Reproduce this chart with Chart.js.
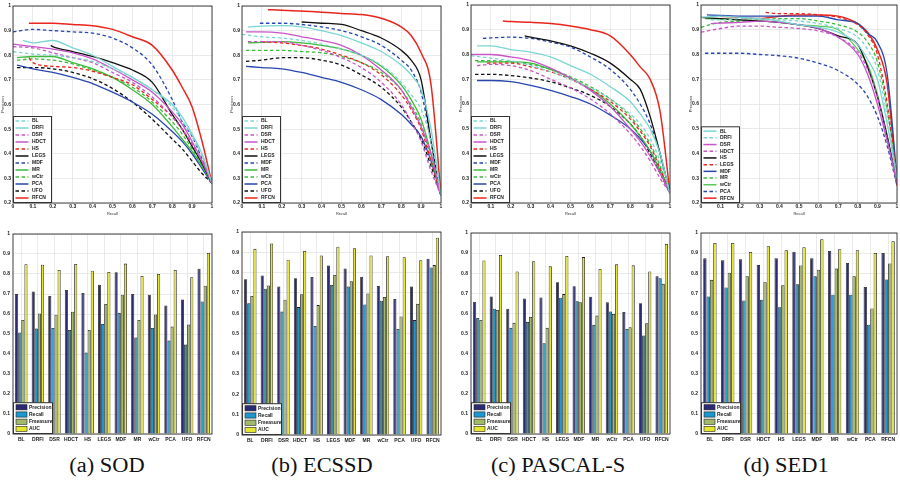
<!DOCTYPE html>
<html>
<head>
<meta charset="utf-8">
<script src="https://cdn.jsdelivr.net/npm/chart.js@4.4.1/dist/chart.umd.min.js"></script>
<style>
  body { margin: 0; width: 900px; height: 481px; overflow: hidden; background: #fff; position: relative; }
  canvas { position: absolute; }
  .cap { position: absolute; top: 454px; font-family: "Liberation Serif", serif; font-size: 20px; color: #111; white-space: nowrap; transform: translateX(-50%) scaleX(1.12); }
</style>
</head>
<body>
<div class="cap" style="left:107px">(a) SOD</div>
<div class="cap" style="left:322px">(b) ECSSD</div>
<div class="cap" style="left:558px">(c) PASCAL-S</div>
<div class="cap" style="left:786px">(d) SED1</div>
<script>
// method names
const methods = ["BL", "DRFI", "DSR", "HDCT", "HS", "LEGS", "MDF", "MR", "wCtr", "PCA", "UFO", "RFCN"];
const methodsSED = ["BL", "DRFI", "DSR", "HDCT", "HS", "LEGS", "MDF", "MR", "wCtr", "PCA", "RFCN"];
const measures = ["Precision", "Recall", "Fmeasure", "AUC"];

// shared recall positions for the PR curves (each curve also has its own first point)
const recallGrid = [0.1, 0.2, 0.3, 0.4, 0.5, 0.6, 0.7, 0.8, 0.85, 0.9, 0.95, 1];

// ---- SOD ----
const sodStart = [[0, 0.815], [0.05, 0.86], [0, 0.835], [0, 0.845], [0.08, 0.79], [0.19, 0.84],
  [0, 0.895], [0.02, 0.79], [0.02, 0.78], [0.02, 0.76], [0.02, 0.75], [0.08, 0.93]];
const sodPrec = [
  [0.805, 0.80, 0.79, 0.775, 0.745, 0.71, 0.66, 0.59, 0.535, 0.47, 0.39, 0.28],
  [0.85, 0.86, 0.83, 0.80, 0.755, 0.71, 0.66, 0.60, 0.55, 0.48, 0.40, 0.28],
  [0.83, 0.81, 0.79, 0.77, 0.73, 0.69, 0.63, 0.55, 0.50, 0.44, 0.37, 0.28],
  [0.835, 0.825, 0.81, 0.785, 0.745, 0.70, 0.65, 0.57, 0.52, 0.45, 0.37, 0.28],
  [0.77, 0.755, 0.75, 0.735, 0.71, 0.68, 0.62, 0.55, 0.50, 0.44, 0.37, 0.28],
  [null, 0.835, 0.815, 0.795, 0.77, 0.74, 0.69, 0.56, 0.50, 0.43, 0.36, 0.28],
  [0.905, 0.90, 0.895, 0.89, 0.87, 0.83, 0.76, 0.62, 0.53, 0.47, 0.38, 0.28],
  [0.795, 0.795, 0.77, 0.745, 0.71, 0.66, 0.60, 0.51, 0.46, 0.41, 0.35, 0.28],
  [0.785, 0.78, 0.765, 0.74, 0.71, 0.67, 0.61, 0.53, 0.48, 0.42, 0.35, 0.28],
  [0.745, 0.73, 0.71, 0.685, 0.65, 0.61, 0.56, 0.49, 0.45, 0.40, 0.34, 0.28],
  [0.75, 0.745, 0.73, 0.705, 0.665, 0.61, 0.54, 0.46, 0.42, 0.37, 0.32, 0.28],
  [0.93, 0.93, 0.925, 0.92, 0.905, 0.875, 0.84, 0.74, 0.67, 0.59, 0.45, 0.28]
];

// ---- ECSSD ----
const ecssdStart = [[0, 0.885], [0.03, 0.915], [0.03, 0.855], [0.02, 0.895], [0.1, 0.855], [0.3, 0.935],
  [0.09, 0.93], [0.03, 0.85], [0.02, 0.82], [0.02, 0.755], [0.02, 0.775], [0.13, 0.985]];
const ecssdPrec = [
  [0.875, 0.87, 0.86, 0.845, 0.825, 0.80, 0.76, 0.69, 0.64, 0.58, 0.45, 0.23],
  [0.918, 0.92, 0.915, 0.90, 0.88, 0.85, 0.815, 0.76, 0.72, 0.66, 0.50, 0.23],
  [0.855, 0.855, 0.84, 0.82, 0.79, 0.75, 0.69, 0.60, 0.53, 0.45, 0.33, 0.23],
  [0.895, 0.89, 0.875, 0.86, 0.84, 0.80, 0.74, 0.66, 0.59, 0.51, 0.40, 0.23],
  [null, 0.85, 0.84, 0.825, 0.80, 0.77, 0.72, 0.64, 0.58, 0.50, 0.37, 0.23],
  [null, null, null, 0.93, 0.925, 0.90, 0.87, 0.82, 0.78, 0.70, 0.45, 0.23],
  [0.93, 0.93, 0.925, 0.915, 0.90, 0.875, 0.84, 0.78, 0.74, 0.65, 0.45, 0.23],
  [0.852, 0.855, 0.85, 0.84, 0.825, 0.80, 0.755, 0.68, 0.62, 0.54, 0.40, 0.23],
  [0.82, 0.82, 0.815, 0.81, 0.795, 0.77, 0.73, 0.66, 0.60, 0.52, 0.38, 0.23],
  [0.75, 0.745, 0.73, 0.71, 0.69, 0.66, 0.62, 0.56, 0.52, 0.47, 0.37, 0.23],
  [0.78, 0.79, 0.79, 0.78, 0.76, 0.72, 0.67, 0.59, 0.53, 0.46, 0.35, 0.23],
  [null, 0.983, 0.98, 0.975, 0.97, 0.965, 0.95, 0.915, 0.88, 0.81, 0.68, 0.23]
];

// ---- PASCAL-S ----
const pascalStart = [[0, 0.795], [0.03, 0.835], [0.03, 0.755], [0, 0.80], [0.08, 0.765], [0.27, 0.875],
  [0.06, 0.865], [0.03, 0.77], [0.02, 0.775], [0.03, 0.695], [0.02, 0.72], [0.16, 0.935]];
const pascalPrec = [
  [0.785, 0.775, 0.755, 0.73, 0.70, 0.665, 0.62, 0.56, 0.52, 0.46, 0.37, 0.24],
  [0.835, 0.82, 0.81, 0.79, 0.755, 0.72, 0.67, 0.61, 0.56, 0.50, 0.40, 0.24],
  [0.76, 0.755, 0.735, 0.70, 0.665, 0.62, 0.56, 0.48, 0.43, 0.37, 0.30, 0.24],
  [0.80, 0.79, 0.775, 0.745, 0.705, 0.655, 0.59, 0.50, 0.45, 0.39, 0.32, 0.24],
  [0.765, 0.765, 0.75, 0.73, 0.70, 0.66, 0.61, 0.54, 0.49, 0.43, 0.34, 0.24],
  [null, null, 0.87, 0.855, 0.835, 0.805, 0.765, 0.70, 0.66, 0.55, 0.40, 0.24],
  [0.867, 0.87, 0.865, 0.85, 0.83, 0.79, 0.74, 0.66, 0.60, 0.52, 0.40, 0.24],
  [0.77, 0.77, 0.765, 0.74, 0.705, 0.66, 0.60, 0.52, 0.47, 0.41, 0.33, 0.24],
  [0.775, 0.77, 0.76, 0.74, 0.71, 0.67, 0.62, 0.55, 0.50, 0.44, 0.35, 0.24],
  [0.695, 0.69, 0.675, 0.655, 0.63, 0.60, 0.555, 0.50, 0.46, 0.41, 0.33, 0.24],
  [0.72, 0.715, 0.705, 0.69, 0.665, 0.635, 0.59, 0.52, 0.47, 0.40, 0.32, 0.24],
  [null, 0.933, 0.93, 0.925, 0.915, 0.90, 0.875, 0.80, 0.75, 0.70, 0.57, 0.24]
];

// ---- SED1 ----
const sedStart = [[0, 0.95], [0.05, 0.94], [0.05, 0.925], [0, 0.89], [0, 0.95], [0.33, 0.97],
  [0.03, 0.96], [0, 0.91], [0.02, 0.945], [0.02, 0.805], [0.1, 0.955]];
const sedPrec = [
  [0.955, 0.95, 0.945, 0.935, 0.92, 0.91, 0.89, 0.84, 0.78, 0.70, 0.52, 0.30],
  [0.94, 0.945, 0.943, 0.94, 0.935, 0.925, 0.905, 0.87, 0.82, 0.74, 0.55, 0.30],
  [0.927, 0.93, 0.935, 0.93, 0.92, 0.905, 0.87, 0.80, 0.72, 0.60, 0.45, 0.28],
  [0.905, 0.915, 0.915, 0.91, 0.905, 0.895, 0.87, 0.81, 0.74, 0.63, 0.46, 0.28],
  [0.945, 0.94, 0.935, 0.93, 0.92, 0.905, 0.875, 0.84, 0.75, 0.63, 0.47, 0.28],
  [null, null, null, 0.965, 0.965, 0.96, 0.95, 0.92, 0.88, 0.80, 0.60, 0.30],
  [0.958, 0.955, 0.955, 0.955, 0.955, 0.955, 0.94, 0.925, 0.885, 0.85, 0.72, 0.30],
  [0.93, 0.935, 0.94, 0.945, 0.945, 0.935, 0.92, 0.89, 0.85, 0.77, 0.58, 0.30],
  [0.943, 0.94, 0.935, 0.93, 0.92, 0.915, 0.90, 0.82, 0.76, 0.64, 0.47, 0.28],
  [0.805, 0.805, 0.80, 0.795, 0.785, 0.765, 0.735, 0.68, 0.63, 0.55, 0.43, 0.27],
  [null, 0.95, 0.945, 0.955, 0.96, 0.96, 0.955, 0.925, 0.89, 0.82, 0.68, 0.27]
];

// ---- bar values: [Precision, Recall, Fmeasure, AUC] per method ----
const sodBars = {
  Precision: [0.70, 0.713, 0.69, 0.72, 0.705, 0.746, 0.809, 0.70, 0.696, 0.643, 0.673, 0.826],
  Recall:    [0.508, 0.527, 0.53, 0.52, 0.407, 0.55, 0.605, 0.482, 0.53, 0.467, 0.447, 0.663],
  Fmeasure:  [0.57, 0.603, 0.596, 0.611, 0.52, 0.65, 0.696, 0.57, 0.598, 0.537, 0.547, 0.741],
  AUC:       [0.849, 0.846, 0.82, 0.85, 0.816, 0.81, 0.852, 0.79, 0.80, 0.82, 0.784, 0.905]
};
const ecssdBars = {
  Precision: [0.767, 0.786, 0.731, 0.772, 0.778, 0.835, 0.82, 0.778, 0.734, 0.67, 0.732, 0.868],
  Recall:    [0.649, 0.721, 0.608, 0.63, 0.537, 0.739, 0.731, 0.643, 0.661, 0.522, 0.566, 0.825],
  Fmeasure:  [0.685, 0.737, 0.666, 0.693, 0.64, 0.788, 0.757, 0.697, 0.68, 0.584, 0.646, 0.837],
  AUC:       [0.917, 0.943, 0.863, 0.907, 0.884, 0.927, 0.92, 0.884, 0.881, 0.876, 0.861, 0.972]
};
const pascalBars = {
  Precision: [0.658, 0.684, 0.623, 0.674, 0.679, 0.755, 0.735, 0.683, 0.655, 0.607, 0.651, 0.785],
  Recall:    [0.577, 0.623, 0.528, 0.558, 0.451, 0.678, 0.661, 0.543, 0.61, 0.523, 0.49, 0.775],
  Fmeasure:  [0.567, 0.617, 0.553, 0.582, 0.528, 0.696, 0.656, 0.589, 0.597, 0.531, 0.551, 0.747],
  AUC:       [0.863, 0.891, 0.809, 0.86, 0.834, 0.886, 0.88, 0.821, 0.844, 0.839, 0.809, 0.946]
};
const sedBars = {
  Precision: [0.874, 0.864, 0.869, 0.841, 0.874, 0.907, 0.874, 0.911, 0.851, 0.731, 0.901],
  Recall:    [0.684, 0.729, 0.664, 0.668, 0.63, 0.745, 0.785, 0.693, 0.693, 0.544, 0.769],
  Fmeasure:  [0.767, 0.802, 0.785, 0.755, 0.74, 0.838, 0.817, 0.823, 0.785, 0.625, 0.848],
  AUC:       [0.95, 0.95, 0.906, 0.934, 0.914, 0.929, 0.969, 0.919, 0.914, 0.901, 0.959]
};

// line styles
const CY = "#7ad6d2", MG = "#c855c8", RD = "#e8261e", BK = "#111111", BU = "#2846ad", GR = "#3cba3c";
const styleA = [[CY, 1], [CY, 0], [MG, 1], [MG, 0], [RD, 1], [BK, 0], [BU, 1], [GR, 0], [GR, 1], [BU, 0], [BK, 1], [RD, 0]];
const styleD = [[CY, 0], [CY, 1], [MG, 0], [MG, 1], [BK, 0], [RD, 1], [BU, 0], [GR, 1], ["#5cc85c", 0], [BU, 1], [RD, 0]];
const barColors = ["#2b2a74", "#1c98cf", "#a2b86a", "#e6e630"];

const tickFont = { family: "Liberation Sans", size: 5, weight: "bold" };
const fmt = v => String(+(+v).toFixed(1));

// full box around the axes
const framePlugin = {
  id: "frame",
  afterDraw(chart) {
    const { ctx, chartArea: a } = chart;
    ctx.save();
    ctx.strokeStyle = "#2a2a2a";
    ctx.lineWidth = 0.9;
    ctx.strokeRect(a.left, a.top, a.right - a.left, a.bottom - a.top);
    ctx.restore();
  }
};

// MATLAB-like legend boxed in the lower left corner
const boxLegend = {
  id: "boxLegend",
  afterDraw(chart, args, opts) {
    const { ctx, chartArea: a } = chart;
    const ds = chart.data.datasets;
    const h = ds.length * opts.rowH + 2;
    const x = a.left + 0.5, y = a.bottom - h - 0.5;
    ctx.save();
    ctx.fillStyle = "#fff";
    ctx.fillRect(x, y, opts.width, h);
    ctx.strokeStyle = "#333";
    ctx.lineWidth = 1;
    ctx.strokeRect(x, y, opts.width, h);
    ctx.font = "bold 5px 'Liberation Sans'";
    ctx.textBaseline = "middle";
    ds.forEach((d, i) => {
      const cy = y + 1 + opts.rowH * (i + 0.5);
      if (opts.kind === "line") {
        ctx.strokeStyle = d.borderColor;
        ctx.lineWidth = 1.5;
        ctx.setLineDash(d.borderDash);
        ctx.beginPath();
        ctx.moveTo(x + 2, cy);
        ctx.lineTo(x + 15, cy);
        ctx.stroke();
        ctx.setLineDash([]);
        ctx.fillStyle = "#222";
        ctx.fillText(d.label, x + 18.5, cy);
      } else {
        ctx.fillStyle = d.backgroundColor;
        ctx.fillRect(x + 2.5, cy - 2.6, 11, 5.2);
        ctx.strokeStyle = "#222";
        ctx.lineWidth = 0.6;
        ctx.strokeRect(x + 2.5, cy - 2.6, 11, 5.2);
        ctx.fillStyle = "#222";
        ctx.fillText(d.label, x + 15.5, cy);
      }
    });
    ctx.restore();
  }
};

function makeCanvas(rect, yw, xh, pt, pr) {
  const c = document.createElement("canvas");
  c.width = rect[2] - rect[0] + yw + pr;
  c.height = rect[3] - rect[1] + pt + xh;
  c.style.left = (rect[0] - yw) + "px";
  c.style.top = (rect[1] - pt) + "px";
  document.body.appendChild(c);
  return c;
}

function prChart(rect, names, start, prec, styles) {
  const yw = 13, xh = 13, pt = 5, pr = 4;
  const canvas = makeCanvas(rect, yw, xh, pt, pr);
  const datasets = names.map((m, i) => ({
    label: m,
    data: [{ x: start[i][0], y: start[i][1] }].concat(
      recallGrid.map((r, j) => ({ x: r, y: prec[i][j] })).filter(p => p.y !== null)),
    borderColor: styles[i][0],
    borderDash: styles[i][1] ? [3.5, 2.5] : [],
    borderWidth: names[i] === "RFCN" ? 1.5 : 1.3,
    pointRadius: 0,
    fill: false,
    cubicInterpolationMode: "monotone"
  }));
  new Chart(canvas, {
    type: "line",
    data: { datasets },
    options: {
      responsive: false,
      animation: false,
      layout: { padding: { top: pt, right: pr, left: 0, bottom: 0 } },
      plugins: {
        legend: { display: false },
        tooltip: { enabled: false },
        boxLegend: { kind: "line", rowH: names.length === 12 ? 7 : 6.7, width: 38 }
      },
      scales: {
        x: {
          type: "linear", min: 0, max: 1,
          ticks: { stepSize: 0.1, font: tickFont, color: "#222", padding: 1, maxRotation: 0, callback: fmt },
          grid: { color: "#e4e4e4", lineWidth: 0.8, drawTicks: false },
          border: { display: false },
          title: { display: true, text: "Recall", font: { family: "Liberation Sans", size: 4 }, color: "#333", padding: 0 },
          afterFit(s) { s.height = xh; }
        },
        y: {
          min: 0.2, max: 1,
          ticks: { stepSize: 0.1, font: tickFont, color: "#222", padding: 2, callback: fmt },
          grid: { color: "#e4e4e4", lineWidth: 0.8, drawTicks: false },
          border: { display: false },
          title: { display: true, text: "Precision", font: { family: "Liberation Sans", size: 4 }, color: "#333", padding: 0 },
          afterFit(s) { s.width = yw; }
        }
      }
    },
    plugins: [framePlugin, boxLegend]
  });
}

function barChart(rect, names, bars) {
  const yw = 12, xh = 10, pt = 5, pr = 4;
  const canvas = makeCanvas(rect, yw, xh, pt, pr);
  const datasets = measures.map((m, i) => ({
    label: m,
    data: bars[m],
    backgroundColor: barColors[i],
    borderColor: "#1e1e1e",
    borderWidth: 0.8,
    categoryPercentage: 0.75,
    barPercentage: 1.0
  }));
  new Chart(canvas, {
    type: "bar",
    data: { labels: names, datasets },
    options: {
      responsive: false,
      animation: false,
      layout: { padding: { top: pt, right: pr, left: 0, bottom: 0 } },
      plugins: {
        legend: { display: false },
        tooltip: { enabled: false },
        boxLegend: { kind: "bar", rowH: 7.2, width: 39 }
      },
      scales: {
        x: {
          ticks: { font: tickFont, color: "#222", padding: 3, maxRotation: 0, minRotation: 0, autoSkip: false },
          grid: { color: "#e4e4e4", lineWidth: 0.8, drawTicks: false, offset: false },
          border: { display: false },
          afterFit(s) { s.height = xh; }
        },
        y: {
          min: 0, max: 1,
          ticks: { stepSize: 0.1, font: tickFont, color: "#222", padding: 3, callback: fmt },
          grid: { color: "#e4e4e4", lineWidth: 0.8, drawTicks: false },
          border: { display: false },
          afterFit(s) { s.width = yw; }
        }
      }
    },
    plugins: [framePlugin, boxLegend]
  });
}

// plot areas [left, top, right, bottom] in page pixels
prChart([13, 6, 212, 203], methods, sodStart, sodPrec, styleA);
prChart([242, 6, 441, 203], methods, ecssdStart, ecssdPrec, styleA);
prChart([471, 5, 670, 203], methods, pascalStart, pascalPrec, styleA);
prChart([701, 5, 897, 203], methodsSED, sedStart, sedPrec, styleD);

barChart([13, 233, 212, 434], methods, sodBars);
barChart([242, 231, 441, 435], methods, ecssdBars);
barChart([471, 232, 670, 434], methods, pascalBars);
barChart([701, 232, 897, 434], methodsSED, sedBars);
</script>
</body>
</html>
